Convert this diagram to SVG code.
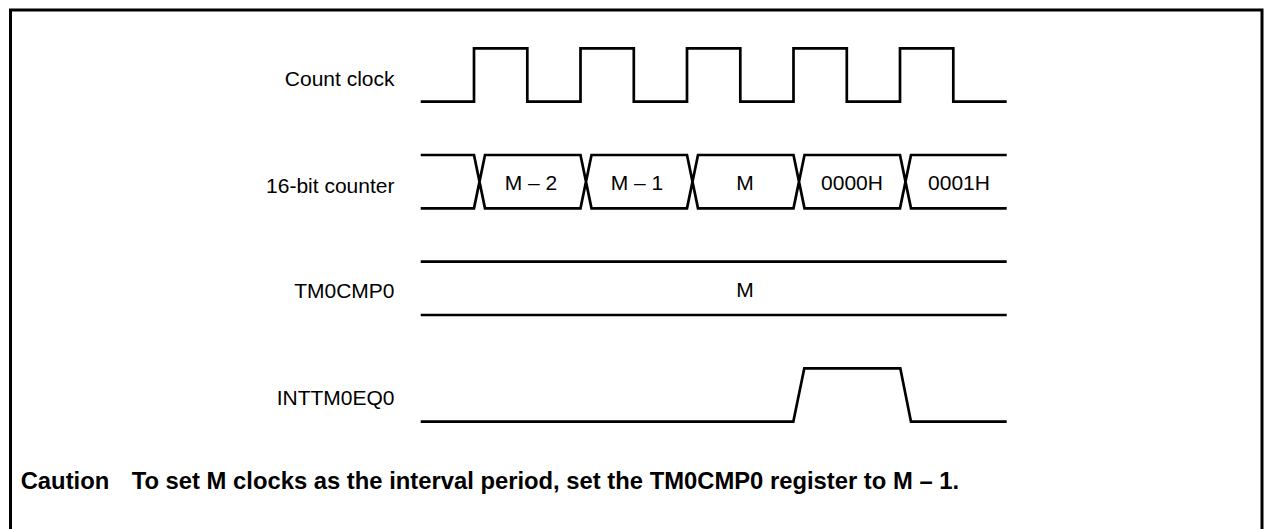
<svg xmlns="http://www.w3.org/2000/svg" width="1267" height="529" viewBox="0 0 1267 529">
<style>
.bg{fill:#ffffff}
.frame{fill:none;stroke:#000;stroke-width:3}
.wave{fill:none;stroke:#000;stroke-width:2.7;stroke-linejoin:miter;stroke-linecap:butt}
.lbl{font-family:"Liberation Sans",Arial,sans-serif;font-size:21px;fill:#000;text-anchor:end}
.val{font-family:"Liberation Sans",Arial,sans-serif;font-size:21px;fill:#000;text-anchor:middle}
.note{font-family:"Liberation Sans",Arial,sans-serif;font-size:23.8px;font-weight:bold;fill:#000}
</style>
<rect class="bg" x="0" y="0" width="1267" height="529"/>
<path class="frame" d="M10.5,535 V10 H1262 V535"/>
<g id="count-clock">
<text class="lbl" x="394.5" y="86">Count clock</text>
<path class="wave" d="M420.7,101.7 H474 V48.3 H527.3 V101.7 H580.5 V48.3 H633.8 V101.7 H687 V48.3 H740.3 V101.7 H793.5 V48.3 H846.8 V101.7 H900 V48.3 H953.3 V101.7 H1006.7"/>
</g>
<g id="counter">
<text class="lbl" x="394.5" y="193">16-bit counter</text>
<path class="wave" d="M420.7,155 H474 L485,208.3 H580.5 L591.5,155 H687 L698,208.3 H793.5 L804.5,155 H900 L911,208.3 H1006.7 M420.7,208.3 H474 L485,155 H580.5 L591.5,208.3 H687 L698,155 H793.5 L804.5,208.3 H900 L911,155 H1006.7"/>
<text class="val" x="531" y="190">M – 2</text>
<text class="val" x="637" y="190">M – 1</text>
<text class="val" x="745" y="190">M</text>
<text class="val" x="852" y="190">0000H</text>
<text class="val" x="959" y="190">0001H</text>
</g>
<g id="tm0cmp0">
<text class="lbl" x="394.5" y="298">TM0CMP0</text>
<path class="wave" d="M420.7,261.7 H1006.7 M420.7,315 H1006.7"/>
<text class="val" x="745" y="297">M</text>
</g>
<g id="inttm0eq0">
<text class="lbl" x="394.5" y="405">INTTM0EQ0</text>
<path class="wave" d="M420.7,421.7 H793.3 L804.3,368.3 H900.3 L911,421.7 H1006.7"/>
</g>
<g id="caution">
<text class="note" x="20.7" y="489">Caution</text>
<text class="note" x="131.7" y="489">To set M clocks as the interval period, set the TM0CMP0 register to M – 1.</text>
</g>
</svg>
